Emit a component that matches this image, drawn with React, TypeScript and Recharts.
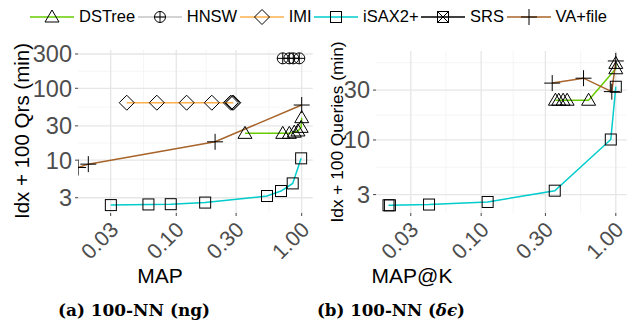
import React from "react";
import { LineChart, Line, XAxis, YAxis, CartesianGrid } from "recharts";

type Pt = { x: number; y: number };

const seriesNames = ["DSTree", "HNSW", "IMI", "iSAX2+", "SRS", "VA+file"];
const seriesColors = ["#66CC00", "#C4C4C4", "#FFB04D", "#00CCCC", "#000000", "#A8642A"];

// (a) 100-NN (ng): MAP vs Idx + 100 Qrs (min)
const ngDSTree: Pt[] = [
  { x: 0.353, y: 23.6 }, { x: 0.706, y: 23.6 }, { x: 0.797, y: 23.6 },
  { x: 0.873, y: 24.5 }, { x: 0.934, y: 25.5 }, { x: 0.99, y: 28.6 }, { x: 1.0, y: 39 },
];
const ngHNSW: Pt[] = [
  { x: 0.706, y: 261 }, { x: 0.797, y: 261 }, { x: 0.857, y: 261 }, { x: 0.957, y: 261 },
];
const ngIMI: Pt[] = [
  { x: 0.0403, y: 63 }, { x: 0.07, y: 63 }, { x: 0.121, y: 63 }, { x: 0.192, y: 63 },
  { x: 0.272, y: 63 }, { x: 0.28, y: 63 }, { x: 0.285, y: 63 },
];
const ngISAX: Pt[] = [
  { x: 0.0301, y: 2.37 }, { x: 0.06, y: 2.42 }, { x: 0.0904, y: 2.44 }, { x: 0.17, y: 2.57 },
  { x: 0.529, y: 3.17 }, { x: 0.684, y: 3.72 }, { x: 0.848, y: 4.75 }, { x: 0.99, y: 10.6 },
];
const ngSRS: Pt[] = [];
const ngVA: Pt[] = [
  { x: 0.0165, y: 7.9 }, { x: 0.0199, y: 8.8 }, { x: 0.204, y: 18 }, { x: 1.0, y: 58.5 },
];

// (b) 100-NN (delta-eps): MAP@K vs Idx + 100 Queries (min)
const deDSTree: Pt[] = [
  { x: 0.356, y: 24 }, { x: 0.377, y: 24 }, { x: 0.406, y: 24 }, { x: 0.435, y: 24 },
  { x: 0.628, y: 24 }, { x: 1.0, y: 48 }, { x: 1.0, y: 54 },
];
const deHNSW: Pt[] = [];
const deIMI: Pt[] = [];
const deISAX: Pt[] = [
  { x: 0.0205, y: 2.37 }, { x: 0.021, y: 2.37 }, { x: 0.041, y: 2.41 }, { x: 0.1117, y: 2.55 },
  { x: 0.352, y: 3.27 }, { x: 0.918, y: 10.1 }, { x: 1.0, y: 32.3 },
];
const deSRS: Pt[] = [];
const deVA: Pt[] = [
  { x: 0.337, y: 35 }, { x: 0.576, y: 39 }, { x: 0.934, y: 29 }, { x: 1.0, y: 57 },
];

const xTicks = [0.03, 0.1, 0.3, 1];
const xMinor = [0.0548, 0.173, 0.548];
const ngYTicks = [3, 10, 30, 100, 300];
const ngYMinor = [5.48, 17.3, 54.8, 173];
const deYTicks = [3, 10, 30];
const deYMinor = [5.48, 17.3, 54.8];

const FONT = "'Liberation Sans', Arial, sans-serif";

const drawMarker = (name: string, cx: number, cy: number, key?: React.Key) => {
  const st = { fill: "none", stroke: "#000", strokeWidth: 1 };
  switch (name) {
    case "DSTree":
      return (
        <polygon key={key} {...st}
          points={`${cx},${cy - 7} ${cx + 7},${cy + 5} ${cx - 7},${cy + 5}`} />
      );
    case "HNSW":
      return (
        <g key={key} {...st}>
          <circle cx={cx} cy={cy} r={5.5} />
          <path d={`M${cx - 5.5},${cy}H${cx + 5.5}M${cx},${cy - 5.5}V${cy + 5.5}`} />
        </g>
      );
    case "IMI":
      return (
        <polygon key={key} {...st}
          points={`${cx},${cy - 7.5} ${cx + 7.5},${cy} ${cx},${cy + 7.5} ${cx - 7.5},${cy}`} />
      );
    case "iSAX2+":
      return <rect key={key} {...st} x={cx - 5.5} y={cy - 5.5} width={11} height={11} />;
    case "SRS":
      return (
        <g key={key} {...st}>
          <rect x={cx - 5.5} y={cy - 5.5} width={11} height={11} />
          <path d={`M${cx - 5.5},${cy - 5.5}L${cx + 5.5},${cy + 5.5}M${cx + 5.5},${cy - 5.5}L${cx - 5.5},${cy + 5.5}`} />
        </g>
      );
    default:
      return (
        <path key={key} {...st}
          d={`M${cx - 8},${cy}H${cx + 8}M${cx},${cy - 8}V${cy + 8}`} />
      );
  }
};

const XTick = (props: any) => {
  const { x, y, payload } = props;
  const ax = x + 9;
  const ay = y + 13;
  return (
    <text x={ax} y={ay} transform={`rotate(-45 ${ax} ${ay})`} textAnchor="end"
      fill="#4D4D4D" fontSize={21.5} fontFamily={FONT}>
      {Number(payload.value).toFixed(2)}
    </text>
  );
};

const Panel = ({ series, xDomain, yDomain, yTicks, yMinor, width, margin, yWidth }: any) => (
  <LineChart width={width} height={270} margin={margin}>
    <CartesianGrid horizontalValues={yMinor} verticalValues={xMinor} stroke="#F2F2F2" strokeWidth={0.8} />
    <CartesianGrid horizontalValues={yTicks} verticalValues={xTicks} stroke="#E6E6E6" strokeWidth={1.3} />
    <XAxis dataKey="x" type="number" scale="log" domain={xDomain} ticks={xTicks}
      allowDataOverflow axisLine={false} tickSize={3} tickLine={{ stroke: "#444" }}
      height={270 - 213} tick={<XTick />} interval={0} />
    <YAxis type="number" scale="log" domain={yDomain} ticks={yTicks} allowDataOverflow
      axisLine={false} tickSize={3} tickMargin={3} tickLine={{ stroke: "#444" }} width={yWidth}
      interval={0}
      tick={{ fill: "#4D4D4D", fontSize: 23.5, fontFamily: FONT }} />
    {series.map((pts: Pt[], i: number) => (
      <Line key={"l" + i} data={pts} dataKey="y" stroke={seriesColors[i]} strokeWidth={1.5}
        dot={false} activeDot={false} isAnimationActive={false} />
    ))}
    {series.map((pts: Pt[], i: number) => (
      <Line key={"p" + i} data={pts} dataKey="y" stroke="none" activeDot={false}
        isAnimationActive={false}
        dot={(p: any) =>
          p.cx == null || p.cy == null
            ? <g key={p.index} />
            : drawMarker(seriesNames[i], p.cx, p.cy, p.index)} />
    ))}
  </LineChart>
);

const Legend = () => (
  <div style={{ position: "absolute", left: 0, top: 3, width: 637, height: 26, display: "flex",
    justifyContent: "center", alignItems: "center", fontFamily: FONT, fontSize: 16.5, color: "#000" }}>
    {seriesNames.map((n, i) => (
      <div key={n} style={{ display: "flex", alignItems: "center", marginRight: i < 5 ? 2.5 : 0 }}>
        <svg width={44} height={26}>
          <line x1={0} x2={44} y1={14} y2={14} stroke={seriesColors[i]} strokeWidth={1.5} />
          {drawMarker(n, 22, 14)}
        </svg>
        <span style={{ marginLeft: 5, lineHeight: "26px" }}>{n}</span>
      </div>
    ))}
  </div>
);

export default function App() {
  return (
    <div style={{ position: "absolute", left: 0, top: 0, width: 637, height: 331, background: "#fff", overflow: "hidden" }}>
      <Legend />
      <div style={{ position: "absolute", left: 0, top: 0 }}>
        <Panel series={[ngDSTree, ngHNSW, ngIMI, ngISAX, ngSRS, ngVA]}
          xDomain={[0.01647, 1.224]} yDomain={[1.84, 341]} yTicks={ngYTicks} yMinor={ngYMinor}
          width={318} yWidth={78} margin={{ top: 50, right: 5.3, bottom: 0, left: 0 }} />
      </div>
      <div style={{ position: "absolute", left: 318, top: 0 }}>
        <Panel series={[deDSTree, deHNSW, deIMI, deISAX, deSRS, deVA]}
          xDomain={[0.01655, 1.205]} yDomain={[2.0, 71]} yTicks={deYTicks} yMinor={deYMinor}
          width={319} yWidth={58} margin={{ top: 51, right: 10.3, bottom: 0, left: 0 }} />
      </div>
      <svg width={637} height={331} style={{ position: "absolute", left: 0, top: 0, pointerEvents: "none" }}>
        <text transform="translate(28.5 131) rotate(-90)" textAnchor="middle" fontFamily={FONT} fontSize={20.5} fill="#000">
          Idx + 100 Qrs (min)
        </text>
        <text transform="translate(342.5 132) rotate(-90)" textAnchor="middle" fontFamily={FONT} fontSize={17.3} fill="#000">
          Idx + 100 Queries (min)
        </text>
        <text x={160} y={283} textAnchor="middle" fontFamily={FONT} fontSize={21} fill="#000">MAP</text>
        <text x={412} y={283} textAnchor="middle" fontFamily={FONT} fontSize={21} fill="#000">MAP@K</text>
        <text x={58} y={316} fontFamily="'DejaVu Serif', serif" fontWeight="bold" fontSize={16}
          textLength={152} lengthAdjust="spacingAndGlyphs" fill="#000">(a) 100-NN (ng)</text>
        <text x={317} y={316} fontFamily="'DejaVu Serif', serif" fontWeight="bold" fontSize={16}
          textLength={148} lengthAdjust="spacingAndGlyphs" fill="#000">
          (b) 100-NN (<tspan fontStyle="italic">δϵ</tspan>)
        </text>
      </svg>
    </div>
  );
}
